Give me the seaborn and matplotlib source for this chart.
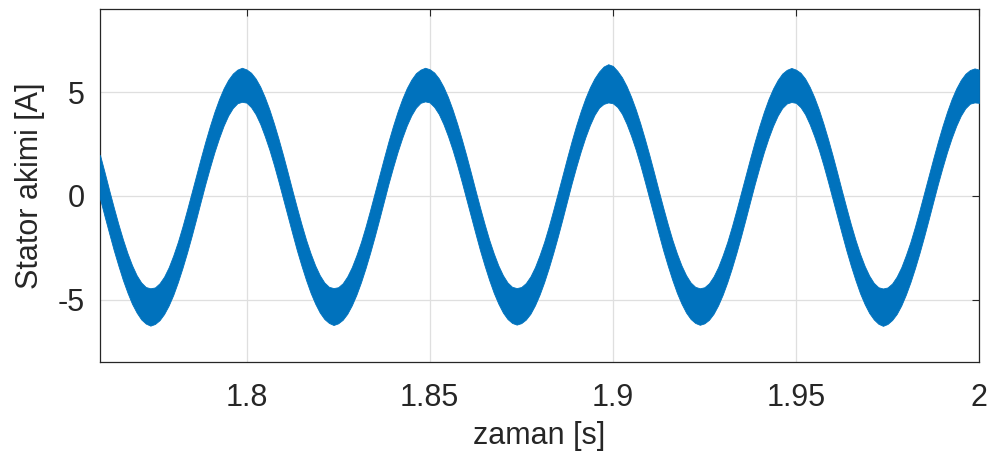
import numpy as np
import pandas as pd
import matplotlib
matplotlib.use("Agg")
import matplotlib.pyplot as plt
import seaborn as sns

# time axis, one sample every 1.25 ms
t_start = 1.76
t_step = 0.00125

# centre of the noisy current band [A], read per 1.25 ms (half a period per row)
current_mid = [
    0.92, 0.08, -0.76, -1.58, -2.35, -3.07, -3.71, -4.27, -4.72, -5.06, -5.27, -5.35, -5.29, -5.10, -4.79, -4.36, -3.82, -3.19, -2.48, -1.71,
    -0.90, -0.07, 0.77, 1.59, 2.36, 3.08, 3.72, 4.28, 4.73, 5.06, 5.27, 5.35, 5.29, 5.10, 4.79, 4.36, 3.81, 3.19, 2.48, 1.71,
    0.90, 0.07, -0.77, -1.59, -2.36, -3.08, -3.72, -4.27, -4.72, -5.05, -5.25, -5.33, -5.27, -5.09, -4.78, -4.35, -3.81, -3.19, -2.48, -1.71,
    -0.90, -0.07, 0.77, 1.60, 2.37, 3.09, 3.73, 4.29, 4.74, 5.08, 5.28, 5.36, 5.30, 5.11, 4.80, 4.36, 3.82, 3.19, 2.48, 1.71,
    0.90, 0.07, -0.77, -1.59, -2.36, -3.08, -3.72, -4.27, -4.72, -5.05, -5.25, -5.32, -5.26, -5.08, -4.78, -4.35, -3.81, -3.19, -2.48, -1.71,
    -0.90, -0.07, 0.78, 1.61, 2.39, 3.11, 3.76, 4.32, 4.78, 5.12, 5.33, 5.42, 5.36, 5.15, 4.83, 4.38, 3.83, 3.20, 2.49, 1.71,
    0.90, 0.07, -0.77, -1.59, -2.36, -3.08, -3.72, -4.27, -4.72, -5.05, -5.25, -5.33, -5.27, -5.09, -4.78, -4.35, -3.81, -3.19, -2.48, -1.71,
    -0.90, -0.07, 0.77, 1.59, 2.36, 3.08, 3.72, 4.27, 4.72, 5.06, 5.26, 5.34, 5.28, 5.10, 4.79, 4.35, 3.81, 3.19, 2.48, 1.71,
    0.90, 0.07, -0.77, -1.59, -2.37, -3.09, -3.74, -4.29, -4.74, -5.07, -5.28, -5.36, -5.29, -5.10, -4.79, -4.36, -3.81, -3.19, -2.48, -1.71,
    -0.90, -0.07, 0.77, 1.59, 2.36, 3.08, 3.72, 4.27, 4.72, 5.05, 5.25, 5.32, 5.28,
]

# half thickness of the ripple band [A]
ripple = [
    1.05, 1.06, 1.04, 1.03, 1.00, 0.98, 0.95, 0.93, 0.90, 0.89, 0.88, 0.90, 0.88, 0.89, 0.90, 0.92, 0.95, 0.97, 1.00, 1.03,
    1.05, 1.05, 1.04, 1.02, 1.00, 0.97, 0.94, 0.90, 0.86, 0.83, 0.81, 0.82, 0.80, 0.83, 0.86, 0.90, 0.94, 0.97, 1.00, 1.03,
    1.05, 1.05, 1.04, 1.03, 1.00, 0.97, 0.95, 0.92, 0.90, 0.88, 0.87, 0.89, 0.87, 0.88, 0.90, 0.92, 0.95, 0.97, 1.00, 1.03,
    1.05, 1.05, 1.04, 1.02, 1.00, 0.97, 0.94, 0.90, 0.86, 0.83, 0.80, 0.81, 0.80, 0.83, 0.86, 0.90, 0.94, 0.97, 1.00, 1.03,
    1.05, 1.05, 1.04, 1.03, 1.00, 0.97, 0.95, 0.92, 0.90, 0.88, 0.87, 0.88, 0.87, 0.88, 0.90, 0.92, 0.95, 0.97, 1.00, 1.03,
    1.05, 1.05, 1.04, 1.02, 1.00, 0.97, 0.94, 0.91, 0.88, 0.87, 0.90, 0.92, 0.90, 0.87, 0.88, 0.91, 0.94, 0.97, 1.00, 1.03,
    1.05, 1.05, 1.04, 1.03, 1.00, 0.97, 0.95, 0.92, 0.90, 0.88, 0.87, 0.88, 0.87, 0.88, 0.90, 0.92, 0.95, 0.97, 1.00, 1.03,
    1.05, 1.05, 1.04, 1.02, 1.00, 0.97, 0.94, 0.90, 0.86, 0.83, 0.81, 0.82, 0.80, 0.83, 0.86, 0.90, 0.94, 0.97, 1.00, 1.03,
    1.05, 1.05, 1.04, 1.03, 1.00, 0.97, 0.95, 0.92, 0.90, 0.88, 0.88, 0.90, 0.88, 0.88, 0.90, 0.92, 0.95, 0.97, 1.00, 1.03,
    1.05, 1.05, 1.04, 1.02, 1.00, 0.97, 0.94, 0.90, 0.86, 0.83, 0.81, 0.82, 0.80,
]

x_ticks = [1.8, 1.85, 1.9, 1.95, 2.0]
x_tick_labels = ["1.8", "1.85", "1.9", "1.95", "2"]
y_ticks = [-5, 0, 5]
y_tick_labels = ["-5", "0", "5"]

df = pd.DataFrame({"mid": current_mid, "rip": ripple})
df["t"] = t_start + t_step * np.arange(len(df))
df["lo"] = df["mid"] - df["rip"]
df["hi"] = df["mid"] + df["rip"]

sns.set_style("white")
plt.rcParams["font.family"] = ["Liberation Sans", "DejaVu Sans"]

blue = "#0072BD"
dark = "#262626"

fig = plt.figure(figsize=(9.94, 4.66), dpi=100)
ax = fig.add_axes([0.1006, 0.2232, 0.8844, 0.7575])

# the ripple band and its centre line
ax.fill_between(df["t"], df["lo"], df["hi"], color=blue, lw=0.6, zorder=3)
sns.lineplot(data=df, x="t", y="mid", color=blue, lw=1.0, ax=ax, zorder=3)

ax.set_xlim(1.76, 2.0)
ax.set_ylim(-8, 9)
ax.set_xticks(x_ticks)
ax.set_xticklabels(x_tick_labels)
ax.set_yticks(y_ticks)
ax.set_yticklabels(y_tick_labels)

ax.grid(True, color="#dfdfdf", lw=0.9, zorder=0)
for s in ax.spines.values():
    s.set_color(dark)
    s.set_linewidth(0.9)
    s.set_visible(True)

ax.tick_params(axis="both", direction="in", top=True, right=True, length=5,
               width=0.8, color=dark, labelcolor=dark, labelsize=22)
ax.tick_params(axis="x", pad=15)
ax.tick_params(axis="y", pad=11)

ax.set_xlabel("zaman [s]", fontsize=22, color=dark, labelpad=6)
ax.set_ylabel("Stator akimi [A]", fontsize=22, color=dark, labelpad=9)

fig.savefig("out.png", dpi=100)
